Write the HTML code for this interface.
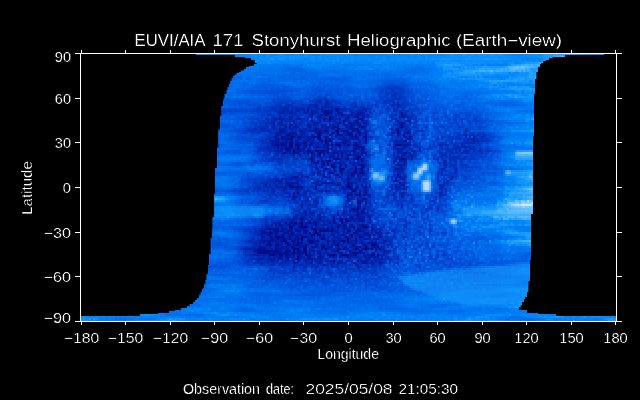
<!DOCTYPE html>
<html><head><meta charset="utf-8">
<style>
html,body{margin:0;padding:0;background:#000;width:640px;height:400px;overflow:hidden}
svg{display:block}
text{font-family:"Liberation Sans",sans-serif;fill:#fff;stroke:#000;stroke-width:0.6px}
</style></head><body>
<svg width="640" height="400" viewBox="0 0 640 400">
<rect width="640" height="400" fill="#000"/>
<g id="map">
<defs>
<clipPath id="plotclip"><rect x="81" y="54" width="535" height="267"/></clipPath>
<filter id="mapf" x="81" y="54" width="535" height="267" filterUnits="userSpaceOnUse" color-interpolation-filters="sRGB">
<feGaussianBlur in="SourceGraphic" stdDeviation="4" result="bl"/>
<feTurbulence type="fractalNoise" baseFrequency="0.28" numOctaves="2" seed="3" result="t1"/>
<feTurbulence type="fractalNoise" baseFrequency="0.02 0.15" numOctaves="2" seed="7" result="t2"/>
<feColorMatrix in="t1" type="matrix" values="0 0 0 0 0  1 0 0 0 0  0 0 0 0 0  0 0 0 0 1" result="n1"/>
<feColorMatrix in="t2" type="matrix" values="0 0 0 0 0  0 0 0 0 0  1 0 0 0 0  0 0 0 0 1" result="n2"/>
<feTurbulence type="fractalNoise" baseFrequency="0.45" numOctaves="1" seed="11" result="t3"/>
<feComponentTransfer in="t3" result="t3s"><feFuncR type="linear" slope="6" intercept="-4.1"/><feFuncA type="linear" slope="0" intercept="1"/></feComponentTransfer>
<feColorMatrix in="t3s" type="matrix" values="0 0 0 0 0  1 0 0 0 0  0 0 0 0 0  0 0 0 0 1" result="n3"/>
<feComposite in="n1" in2="n3" operator="arithmetic" k1="0" k2="1" k3="1" k4="0" result="n13"/>
<feComposite in="n13" in2="n2" operator="arithmetic" k1="0" k2="1" k3="1" k4="0" result="nm"/>
<feColorMatrix in="bl" type="matrix" values="1 0 0 0 0  0 1 0 0 0  0 0 1 0 0  0 0 0 0 1" result="bl1"/>
<feComposite in="bl1" in2="nm" operator="arithmetic" k1="1" k2="0" k3="0" k4="0" result="m"/>
<feColorMatrix in="m" type="matrix" values="0 1 1 0 0  0 1 1 0 0  0 1 1 0 0  0 0 0 0 1" result="ms"/>
<feColorMatrix in="bl1" type="matrix" values="1 0 0 0 0  1 0 0 0 0  1 0 0 0 0  0 0 0 0 1" result="b2"/>
<feComposite in="b2" in2="ms" operator="arithmetic" k1="0" k2="1" k3="1" k4="0" result="L"/>
<feComponentTransfer in="L" result="cm">
<feFuncR type="table" tableValues="0.0000 0.0000 0.0000 0.0000 0.0000 0.0000 0.0000 0.0000 0.1569 0.5490 0.9412"/>
<feFuncG type="table" tableValues="0.0000 0.0000 0.0471 0.1490 0.2431 0.3373 0.4235 0.5176 0.6471 0.8039 0.9725"/>
<feFuncB type="table" tableValues="0.0000 0.4118 0.5490 0.6863 0.7922 0.8706 0.9255 0.9725 1.0000 1.0000 1.0000"/>
<feFuncA type="linear" slope="0" intercept="1"/>
</feComponentTransfer>
<feFlood x="81" y="54" width="1" height="1" flood-color="#fff" result="dot"/>
<feComposite in="dot" x="81" y="54" width="2" height="2" operator="over" result="cell"/>
<feTile in="cell" result="tile"/>
<feComposite in="cm" in2="tile" operator="in" result="samp"/>
<feConvolveMatrix in="samp" order="2" kernelMatrix="1 1 1 1" divisor="1" targetX="1" targetY="1" edgeMode="none"/>
</filter>
<filter id="spb" x="81" y="54" width="535" height="267" filterUnits="userSpaceOnUse" color-interpolation-filters="sRGB"><feGaussianBlur stdDeviation="0.9" result="b"/><feFlood x="81" y="54" width="1" height="1" flood-color="#fff" result="dot"/><feComposite in="dot" x="81" y="54" width="2" height="2" operator="over" result="cell"/><feTile in="cell" result="tile"/><feComposite in="b" in2="tile" operator="in" result="samp"/><feConvolveMatrix in="samp" order="2" kernelMatrix="1 1 1 1" divisor="1" targetX="1" targetY="1" edgeMode="none"/></filter>
</defs>
<g clip-path="url(#plotclip)">
<rect x="81" y="54" width="535" height="267" fill="#0056de"/>
<g filter="url(#mapf)">
<rect x="60" y="54" width="130" height="10" fill="#7c1a5e"/>
<rect x="190" y="54" width="10" height="10" fill="#7c1a5e"/>
<rect x="200" y="54" width="10" height="10" fill="#7a1a61"/>
<rect x="210" y="54" width="10" height="10" fill="#7a1a61"/>
<rect x="220" y="54" width="10" height="10" fill="#7a1a61"/>
<rect x="230" y="54" width="10" height="10" fill="#7c1a5e"/>
<rect x="240" y="54" width="10" height="10" fill="#7e1a59"/>
<rect x="250" y="54" width="10" height="10" fill="#811a53"/>
<rect x="260" y="54" width="10" height="10" fill="#841a4e"/>
<rect x="270" y="54" width="10" height="10" fill="#871a49"/>
<rect x="280" y="54" width="10" height="10" fill="#891a43"/>
<rect x="290" y="54" width="10" height="10" fill="#8c1a3e"/>
<rect x="300" y="54" width="10" height="10" fill="#8f1a39"/>
<rect x="310" y="54" width="10" height="10" fill="#911a33"/>
<rect x="320" y="54" width="10" height="10" fill="#931a30"/>
<rect x="330" y="54" width="10" height="10" fill="#931a30"/>
<rect x="340" y="54" width="10" height="10" fill="#931a30"/>
<rect x="350" y="54" width="10" height="10" fill="#931a30"/>
<rect x="360" y="54" width="10" height="10" fill="#931a30"/>
<rect x="370" y="54" width="10" height="10" fill="#931a30"/>
<rect x="380" y="54" width="10" height="10" fill="#931a30"/>
<rect x="390" y="54" width="10" height="10" fill="#931a30"/>
<rect x="400" y="54" width="10" height="10" fill="#931a30"/>
<rect x="410" y="54" width="10" height="10" fill="#931a30"/>
<rect x="420" y="54" width="10" height="10" fill="#931a30"/>
<rect x="430" y="54" width="10" height="10" fill="#911a34"/>
<rect x="440" y="54" width="10" height="10" fill="#9b1a3a"/>
<rect x="450" y="54" width="10" height="10" fill="#981a3f"/>
<rect x="460" y="54" width="10" height="10" fill="#951a44"/>
<rect x="470" y="54" width="10" height="10" fill="#931a4a"/>
<rect x="480" y="54" width="10" height="10" fill="#901a4f"/>
<rect x="490" y="54" width="10" height="10" fill="#8d1a55"/>
<rect x="500" y="54" width="10" height="10" fill="#8b1a5a"/>
<rect x="510" y="54" width="10" height="10" fill="#881a5f"/>
<rect x="520" y="54" width="10" height="10" fill="#871a61"/>
<rect x="530" y="54" width="10" height="10" fill="#871a61"/>
<rect x="540" y="54" width="100" height="10" fill="#871a61"/>
<rect x="60" y="64" width="130" height="10" fill="#6a1a5e"/>
<rect x="190" y="64" width="10" height="10" fill="#6a1a5e"/>
<rect x="200" y="64" width="10" height="10" fill="#691a61"/>
<rect x="210" y="64" width="10" height="10" fill="#691a61"/>
<rect x="220" y="64" width="10" height="10" fill="#691a61"/>
<rect x="230" y="64" width="10" height="10" fill="#6a1a5e"/>
<rect x="240" y="64" width="10" height="10" fill="#6d1a59"/>
<rect x="250" y="64" width="10" height="10" fill="#6f1a53"/>
<rect x="260" y="64" width="10" height="10" fill="#721a4e"/>
<rect x="270" y="64" width="10" height="10" fill="#751a49"/>
<rect x="280" y="64" width="10" height="10" fill="#6b1a43"/>
<rect x="290" y="64" width="10" height="10" fill="#6d1a3e"/>
<rect x="300" y="64" width="10" height="10" fill="#701a39"/>
<rect x="310" y="64" width="10" height="10" fill="#7f1a33"/>
<rect x="320" y="64" width="10" height="10" fill="#811a30"/>
<rect x="330" y="64" width="10" height="10" fill="#811a30"/>
<rect x="340" y="64" width="10" height="10" fill="#811a30"/>
<rect x="350" y="64" width="10" height="10" fill="#811a30"/>
<rect x="360" y="64" width="10" height="10" fill="#811a30"/>
<rect x="370" y="64" width="10" height="10" fill="#811a30"/>
<rect x="380" y="64" width="10" height="10" fill="#811a30"/>
<rect x="390" y="64" width="10" height="10" fill="#811a30"/>
<rect x="400" y="64" width="10" height="10" fill="#811a30"/>
<rect x="410" y="64" width="10" height="10" fill="#811a30"/>
<rect x="420" y="64" width="10" height="10" fill="#811a30"/>
<rect x="430" y="64" width="10" height="10" fill="#8c1a34"/>
<rect x="440" y="64" width="10" height="10" fill="#961a3a"/>
<rect x="450" y="64" width="10" height="10" fill="#931a3f"/>
<rect x="460" y="64" width="10" height="10" fill="#901a44"/>
<rect x="470" y="64" width="10" height="10" fill="#8e1a4a"/>
<rect x="480" y="64" width="10" height="10" fill="#8b1a4f"/>
<rect x="490" y="64" width="10" height="10" fill="#881a55"/>
<rect x="500" y="64" width="10" height="10" fill="#861a5a"/>
<rect x="510" y="64" width="10" height="10" fill="#901a5f"/>
<rect x="520" y="64" width="10" height="10" fill="#8f1a61"/>
<rect x="530" y="64" width="10" height="10" fill="#8f1a61"/>
<rect x="540" y="64" width="100" height="10" fill="#8f1a61"/>
<rect x="60" y="74" width="130" height="10" fill="#5d1a5e"/>
<rect x="190" y="74" width="10" height="10" fill="#5d1a5e"/>
<rect x="200" y="74" width="10" height="10" fill="#5c1a61"/>
<rect x="210" y="74" width="10" height="10" fill="#5c1a61"/>
<rect x="220" y="74" width="10" height="10" fill="#5c1a61"/>
<rect x="230" y="74" width="10" height="10" fill="#5d1a5e"/>
<rect x="240" y="74" width="10" height="10" fill="#601a59"/>
<rect x="250" y="74" width="10" height="10" fill="#631a53"/>
<rect x="260" y="74" width="10" height="10" fill="#581a4e"/>
<rect x="270" y="74" width="10" height="10" fill="#5b1a49"/>
<rect x="280" y="74" width="10" height="10" fill="#5e1a43"/>
<rect x="290" y="74" width="10" height="10" fill="#611a3e"/>
<rect x="300" y="74" width="10" height="10" fill="#631a39"/>
<rect x="310" y="74" width="10" height="10" fill="#661a33"/>
<rect x="320" y="74" width="10" height="10" fill="#671a30"/>
<rect x="330" y="74" width="10" height="10" fill="#671a30"/>
<rect x="340" y="74" width="10" height="10" fill="#671a30"/>
<rect x="350" y="74" width="10" height="10" fill="#741a30"/>
<rect x="360" y="74" width="10" height="10" fill="#741a30"/>
<rect x="370" y="74" width="10" height="10" fill="#741a30"/>
<rect x="380" y="74" width="10" height="10" fill="#671a30"/>
<rect x="390" y="74" width="10" height="10" fill="#671a30"/>
<rect x="400" y="74" width="10" height="10" fill="#671a30"/>
<rect x="410" y="74" width="10" height="10" fill="#741a30"/>
<rect x="420" y="74" width="10" height="10" fill="#741a30"/>
<rect x="430" y="74" width="10" height="10" fill="#7f1a34"/>
<rect x="440" y="74" width="10" height="10" fill="#891a3a"/>
<rect x="450" y="74" width="10" height="10" fill="#861a3f"/>
<rect x="460" y="74" width="10" height="10" fill="#841a44"/>
<rect x="470" y="74" width="10" height="10" fill="#811a4a"/>
<rect x="480" y="74" width="10" height="10" fill="#7e1a4f"/>
<rect x="490" y="74" width="10" height="10" fill="#881a55"/>
<rect x="500" y="74" width="10" height="10" fill="#861a5a"/>
<rect x="510" y="74" width="10" height="10" fill="#831a5f"/>
<rect x="520" y="74" width="10" height="10" fill="#821a61"/>
<rect x="530" y="74" width="10" height="10" fill="#821a61"/>
<rect x="540" y="74" width="100" height="10" fill="#821a61"/>
<rect x="60" y="84" width="130" height="10" fill="#5d1a5e"/>
<rect x="190" y="84" width="10" height="10" fill="#5d1a5e"/>
<rect x="200" y="84" width="10" height="10" fill="#5c1a61"/>
<rect x="210" y="84" width="10" height="10" fill="#5c1a61"/>
<rect x="220" y="84" width="10" height="10" fill="#5c1a61"/>
<rect x="230" y="84" width="10" height="10" fill="#5d1a5e"/>
<rect x="240" y="84" width="10" height="10" fill="#531b57"/>
<rect x="250" y="84" width="10" height="10" fill="#551d51"/>
<rect x="260" y="84" width="10" height="10" fill="#581e4b"/>
<rect x="270" y="84" width="10" height="10" fill="#5a1f45"/>
<rect x="280" y="84" width="10" height="10" fill="#5c213f"/>
<rect x="290" y="84" width="10" height="10" fill="#6b2239"/>
<rect x="300" y="84" width="10" height="10" fill="#6e2334"/>
<rect x="310" y="84" width="10" height="10" fill="#63242e"/>
<rect x="320" y="84" width="10" height="10" fill="#64252c"/>
<rect x="330" y="84" width="10" height="10" fill="#64252c"/>
<rect x="340" y="84" width="10" height="10" fill="#64252c"/>
<rect x="350" y="84" width="10" height="10" fill="#64252c"/>
<rect x="360" y="84" width="10" height="10" fill="#64252c"/>
<rect x="370" y="84" width="10" height="10" fill="#51252c"/>
<rect x="380" y="84" width="10" height="10" fill="#3e252c"/>
<rect x="390" y="84" width="10" height="10" fill="#2b252c"/>
<rect x="400" y="84" width="10" height="10" fill="#3e252c"/>
<rect x="410" y="84" width="10" height="10" fill="#64252c"/>
<rect x="420" y="84" width="10" height="10" fill="#64252c"/>
<rect x="430" y="84" width="10" height="10" fill="#6f242f"/>
<rect x="440" y="84" width="10" height="10" fill="#7a2335"/>
<rect x="450" y="84" width="10" height="10" fill="#78223b"/>
<rect x="460" y="84" width="10" height="10" fill="#752040"/>
<rect x="470" y="84" width="10" height="10" fill="#801f46"/>
<rect x="480" y="84" width="10" height="10" fill="#7e1e4c"/>
<rect x="490" y="84" width="10" height="10" fill="#7b1c52"/>
<rect x="500" y="84" width="10" height="10" fill="#791b59"/>
<rect x="510" y="84" width="10" height="10" fill="#831a5f"/>
<rect x="520" y="84" width="10" height="10" fill="#821a61"/>
<rect x="530" y="84" width="10" height="10" fill="#821a61"/>
<rect x="540" y="84" width="100" height="10" fill="#821a61"/>
<rect x="60" y="94" width="130" height="10" fill="#501c5c"/>
<rect x="190" y="94" width="10" height="10" fill="#501c5c"/>
<rect x="200" y="94" width="10" height="10" fill="#4f1a61"/>
<rect x="210" y="94" width="10" height="10" fill="#4f1a61"/>
<rect x="220" y="94" width="10" height="10" fill="#4f1a61"/>
<rect x="230" y="94" width="10" height="10" fill="#501c5c"/>
<rect x="240" y="94" width="10" height="10" fill="#462054"/>
<rect x="250" y="94" width="10" height="10" fill="#48254b"/>
<rect x="260" y="94" width="10" height="10" fill="#492943"/>
<rect x="270" y="94" width="10" height="10" fill="#2d2e3c"/>
<rect x="280" y="94" width="10" height="10" fill="#2f3235"/>
<rect x="290" y="94" width="10" height="10" fill="#43372e"/>
<rect x="300" y="94" width="10" height="10" fill="#443b28"/>
<rect x="310" y="94" width="10" height="10" fill="#313f22"/>
<rect x="320" y="94" width="10" height="10" fill="#32421f"/>
<rect x="330" y="94" width="10" height="10" fill="#45421f"/>
<rect x="340" y="94" width="10" height="10" fill="#4f421f"/>
<rect x="350" y="94" width="10" height="10" fill="#4f421f"/>
<rect x="360" y="94" width="10" height="10" fill="#4f421f"/>
<rect x="370" y="94" width="10" height="10" fill="#4f421f"/>
<rect x="380" y="94" width="10" height="10" fill="#29421f"/>
<rect x="390" y="94" width="10" height="10" fill="#29421f"/>
<rect x="400" y="94" width="10" height="10" fill="#3c421f"/>
<rect x="410" y="94" width="10" height="10" fill="#4f421f"/>
<rect x="420" y="94" width="10" height="10" fill="#4f421f"/>
<rect x="430" y="94" width="10" height="10" fill="#5b3f23"/>
<rect x="440" y="94" width="10" height="10" fill="#673a29"/>
<rect x="450" y="94" width="10" height="10" fill="#663630"/>
<rect x="460" y="94" width="10" height="10" fill="#653136"/>
<rect x="470" y="94" width="10" height="10" fill="#642d3d"/>
<rect x="480" y="94" width="10" height="10" fill="#6f2845"/>
<rect x="490" y="94" width="10" height="10" fill="#6d244d"/>
<rect x="500" y="94" width="10" height="10" fill="#6b1f55"/>
<rect x="510" y="94" width="10" height="10" fill="#691b5e"/>
<rect x="520" y="94" width="10" height="10" fill="#691a61"/>
<rect x="530" y="94" width="10" height="10" fill="#691a61"/>
<rect x="540" y="94" width="100" height="10" fill="#691a61"/>
<rect x="60" y="104" width="130" height="10" fill="#431d5b"/>
<rect x="190" y="104" width="10" height="10" fill="#431d5b"/>
<rect x="200" y="104" width="10" height="10" fill="#421a61"/>
<rect x="210" y="104" width="10" height="10" fill="#421a61"/>
<rect x="220" y="104" width="10" height="10" fill="#421a61"/>
<rect x="230" y="104" width="10" height="10" fill="#301d5b"/>
<rect x="240" y="104" width="10" height="10" fill="#452550"/>
<rect x="250" y="104" width="10" height="10" fill="#332d46"/>
<rect x="260" y="104" width="10" height="10" fill="#34343c"/>
<rect x="270" y="104" width="10" height="10" fill="#2b3c33"/>
<rect x="280" y="104" width="10" height="10" fill="#18442b"/>
<rect x="290" y="104" width="10" height="10" fill="#184b23"/>
<rect x="300" y="104" width="10" height="10" fill="#17531c"/>
<rect x="310" y="104" width="10" height="10" fill="#175b16"/>
<rect x="320" y="104" width="10" height="10" fill="#035e13"/>
<rect x="330" y="104" width="10" height="10" fill="#035e13"/>
<rect x="340" y="104" width="10" height="10" fill="#205e13"/>
<rect x="350" y="104" width="10" height="10" fill="#145e13"/>
<rect x="360" y="104" width="10" height="10" fill="#145e13"/>
<rect x="370" y="104" width="10" height="10" fill="#3a5e13"/>
<rect x="380" y="104" width="10" height="10" fill="#3a5e13"/>
<rect x="390" y="104" width="10" height="10" fill="#205e13"/>
<rect x="400" y="104" width="10" height="10" fill="#205e13"/>
<rect x="410" y="104" width="10" height="10" fill="#2d5e13"/>
<rect x="420" y="104" width="10" height="10" fill="#475e13"/>
<rect x="430" y="104" width="10" height="10" fill="#405917"/>
<rect x="440" y="104" width="10" height="10" fill="#4d511e"/>
<rect x="450" y="104" width="10" height="10" fill="#4d4a25"/>
<rect x="460" y="104" width="10" height="10" fill="#4d422c"/>
<rect x="470" y="104" width="10" height="10" fill="#4d3a35"/>
<rect x="480" y="104" width="10" height="10" fill="#59333e"/>
<rect x="490" y="104" width="10" height="10" fill="#602b48"/>
<rect x="500" y="104" width="10" height="10" fill="#662352"/>
<rect x="510" y="104" width="10" height="10" fill="#641c5d"/>
<rect x="520" y="104" width="10" height="10" fill="#631a61"/>
<rect x="530" y="104" width="10" height="10" fill="#701a61"/>
<rect x="540" y="104" width="100" height="10" fill="#701a61"/>
<rect x="60" y="114" width="130" height="10" fill="#431f5a"/>
<rect x="190" y="114" width="10" height="10" fill="#431f5a"/>
<rect x="200" y="114" width="10" height="10" fill="#421a61"/>
<rect x="210" y="114" width="10" height="10" fill="#4a1a61"/>
<rect x="220" y="114" width="10" height="10" fill="#4a1a61"/>
<rect x="230" y="114" width="10" height="10" fill="#4b1f5a"/>
<rect x="240" y="114" width="10" height="10" fill="#392a4c"/>
<rect x="250" y="114" width="10" height="10" fill="#323540"/>
<rect x="260" y="114" width="10" height="10" fill="#1f3f34"/>
<rect x="270" y="114" width="10" height="10" fill="#154a2a"/>
<rect x="280" y="114" width="10" height="10" fill="#145520"/>
<rect x="290" y="114" width="10" height="10" fill="#136018"/>
<rect x="300" y="114" width="10" height="10" fill="#256b10"/>
<rect x="310" y="114" width="10" height="10" fill="#0f760a"/>
<rect x="320" y="114" width="10" height="10" fill="#0e7b07"/>
<rect x="330" y="114" width="10" height="10" fill="#0e7b07"/>
<rect x="340" y="114" width="10" height="10" fill="#0b7b07"/>
<rect x="350" y="114" width="10" height="10" fill="#007b07"/>
<rect x="360" y="114" width="10" height="10" fill="#007b07"/>
<rect x="370" y="114" width="10" height="10" fill="#3e7b07"/>
<rect x="380" y="114" width="10" height="10" fill="#3e7b07"/>
<rect x="390" y="114" width="10" height="10" fill="#187b07"/>
<rect x="400" y="114" width="10" height="10" fill="#0b7b07"/>
<rect x="410" y="114" width="10" height="10" fill="#257b07"/>
<rect x="420" y="114" width="10" height="10" fill="#3e7b07"/>
<rect x="430" y="114" width="10" height="10" fill="#38730b"/>
<rect x="440" y="114" width="10" height="10" fill="#346912"/>
<rect x="450" y="114" width="10" height="10" fill="#365e1a"/>
<rect x="460" y="114" width="10" height="10" fill="#375322"/>
<rect x="470" y="114" width="10" height="10" fill="#38482c"/>
<rect x="480" y="114" width="10" height="10" fill="#4b3d36"/>
<rect x="490" y="114" width="10" height="10" fill="#5f3242"/>
<rect x="500" y="114" width="10" height="10" fill="#65284f"/>
<rect x="510" y="114" width="10" height="10" fill="#711d5d"/>
<rect x="520" y="114" width="10" height="10" fill="#701a61"/>
<rect x="530" y="114" width="10" height="10" fill="#701a61"/>
<rect x="540" y="114" width="100" height="10" fill="#701a61"/>
<rect x="60" y="124" width="130" height="10" fill="#502059"/>
<rect x="190" y="124" width="10" height="10" fill="#502059"/>
<rect x="200" y="124" width="10" height="10" fill="#4f1a61"/>
<rect x="210" y="124" width="10" height="10" fill="#571a61"/>
<rect x="220" y="124" width="10" height="10" fill="#571a61"/>
<rect x="230" y="124" width="10" height="10" fill="#4b2059"/>
<rect x="240" y="124" width="10" height="10" fill="#392d4a"/>
<rect x="250" y="124" width="10" height="10" fill="#1e393c"/>
<rect x="260" y="124" width="10" height="10" fill="#1e4630"/>
<rect x="270" y="124" width="10" height="10" fill="#135324"/>
<rect x="280" y="124" width="10" height="10" fill="#00601a"/>
<rect x="290" y="124" width="10" height="10" fill="#106c11"/>
<rect x="300" y="124" width="10" height="10" fill="#0e7909"/>
<rect x="310" y="124" width="10" height="10" fill="#008603"/>
<rect x="320" y="124" width="10" height="10" fill="#008c00"/>
<rect x="330" y="124" width="10" height="10" fill="#008c00"/>
<rect x="340" y="124" width="10" height="10" fill="#068c00"/>
<rect x="350" y="124" width="10" height="10" fill="#008c00"/>
<rect x="360" y="124" width="10" height="10" fill="#008c00"/>
<rect x="370" y="124" width="10" height="10" fill="#468c00"/>
<rect x="380" y="124" width="10" height="10" fill="#398c00"/>
<rect x="390" y="124" width="10" height="10" fill="#068c00"/>
<rect x="400" y="124" width="10" height="10" fill="#008c00"/>
<rect x="410" y="124" width="10" height="10" fill="#208c00"/>
<rect x="420" y="124" width="10" height="10" fill="#398c00"/>
<rect x="430" y="124" width="10" height="10" fill="#348304"/>
<rect x="440" y="124" width="10" height="10" fill="#31770b"/>
<rect x="450" y="124" width="10" height="10" fill="#336a13"/>
<rect x="460" y="124" width="10" height="10" fill="#355d1c"/>
<rect x="470" y="124" width="10" height="10" fill="#365027"/>
<rect x="480" y="124" width="10" height="10" fill="#374432"/>
<rect x="490" y="124" width="10" height="10" fill="#51373f"/>
<rect x="500" y="124" width="10" height="10" fill="#652a4d"/>
<rect x="510" y="124" width="10" height="10" fill="#711d5c"/>
<rect x="520" y="124" width="10" height="10" fill="#701a61"/>
<rect x="530" y="124" width="10" height="10" fill="#7d1a61"/>
<rect x="540" y="124" width="100" height="10" fill="#7d1a61"/>
<rect x="60" y="134" width="130" height="10" fill="#502059"/>
<rect x="190" y="134" width="10" height="10" fill="#502059"/>
<rect x="200" y="134" width="10" height="10" fill="#4f1a61"/>
<rect x="210" y="134" width="10" height="10" fill="#571a61"/>
<rect x="220" y="134" width="10" height="10" fill="#571a61"/>
<rect x="230" y="134" width="10" height="10" fill="#4b2059"/>
<rect x="240" y="134" width="10" height="10" fill="#392d4a"/>
<rect x="250" y="134" width="10" height="10" fill="#32393c"/>
<rect x="260" y="134" width="10" height="10" fill="#1e4630"/>
<rect x="270" y="134" width="10" height="10" fill="#005324"/>
<rect x="280" y="134" width="10" height="10" fill="#00601a"/>
<rect x="290" y="134" width="10" height="10" fill="#006c11"/>
<rect x="300" y="134" width="10" height="10" fill="#0e7909"/>
<rect x="310" y="134" width="10" height="10" fill="#008603"/>
<rect x="320" y="134" width="10" height="10" fill="#008c00"/>
<rect x="330" y="134" width="10" height="10" fill="#008c00"/>
<rect x="340" y="134" width="10" height="10" fill="#068c00"/>
<rect x="350" y="134" width="10" height="10" fill="#008c00"/>
<rect x="360" y="134" width="10" height="10" fill="#008c00"/>
<rect x="370" y="134" width="10" height="10" fill="#398c00"/>
<rect x="380" y="134" width="10" height="10" fill="#398c00"/>
<rect x="390" y="134" width="10" height="10" fill="#068c00"/>
<rect x="400" y="134" width="10" height="10" fill="#008c00"/>
<rect x="410" y="134" width="10" height="10" fill="#208c00"/>
<rect x="420" y="134" width="10" height="10" fill="#398c00"/>
<rect x="430" y="134" width="10" height="10" fill="#348304"/>
<rect x="440" y="134" width="10" height="10" fill="#24770b"/>
<rect x="450" y="134" width="10" height="10" fill="#266a13"/>
<rect x="460" y="134" width="10" height="10" fill="#155d1c"/>
<rect x="470" y="134" width="10" height="10" fill="#165027"/>
<rect x="480" y="134" width="10" height="10" fill="#2a4432"/>
<rect x="490" y="134" width="10" height="10" fill="#45373f"/>
<rect x="500" y="134" width="10" height="10" fill="#652a4d"/>
<rect x="510" y="134" width="10" height="10" fill="#711d5c"/>
<rect x="520" y="134" width="10" height="10" fill="#701a61"/>
<rect x="530" y="134" width="10" height="10" fill="#7d1a61"/>
<rect x="540" y="134" width="100" height="10" fill="#7d1a61"/>
<rect x="60" y="144" width="130" height="10" fill="#502059"/>
<rect x="190" y="144" width="10" height="10" fill="#502059"/>
<rect x="200" y="144" width="10" height="10" fill="#4f1a61"/>
<rect x="210" y="144" width="10" height="10" fill="#571a61"/>
<rect x="220" y="144" width="10" height="10" fill="#571a61"/>
<rect x="230" y="144" width="10" height="10" fill="#4b2059"/>
<rect x="240" y="144" width="10" height="10" fill="#4c2d4a"/>
<rect x="250" y="144" width="10" height="10" fill="#32393c"/>
<rect x="260" y="144" width="10" height="10" fill="#1e4630"/>
<rect x="270" y="144" width="10" height="10" fill="#135324"/>
<rect x="280" y="144" width="10" height="10" fill="#00601a"/>
<rect x="290" y="144" width="10" height="10" fill="#006c11"/>
<rect x="300" y="144" width="10" height="10" fill="#007909"/>
<rect x="310" y="144" width="10" height="10" fill="#008603"/>
<rect x="320" y="144" width="10" height="10" fill="#008c00"/>
<rect x="330" y="144" width="10" height="10" fill="#008c00"/>
<rect x="340" y="144" width="10" height="10" fill="#068c00"/>
<rect x="350" y="144" width="10" height="10" fill="#008c00"/>
<rect x="360" y="144" width="10" height="10" fill="#008c00"/>
<rect x="370" y="144" width="10" height="10" fill="#468c00"/>
<rect x="380" y="144" width="10" height="10" fill="#468c00"/>
<rect x="390" y="144" width="10" height="10" fill="#068c00"/>
<rect x="400" y="144" width="10" height="10" fill="#008c00"/>
<rect x="410" y="144" width="10" height="10" fill="#138c00"/>
<rect x="420" y="144" width="10" height="10" fill="#398c00"/>
<rect x="430" y="144" width="10" height="10" fill="#218304"/>
<rect x="440" y="144" width="10" height="10" fill="#11770b"/>
<rect x="450" y="144" width="10" height="10" fill="#136a13"/>
<rect x="460" y="144" width="10" height="10" fill="#155d1c"/>
<rect x="470" y="144" width="10" height="10" fill="#165027"/>
<rect x="480" y="144" width="10" height="10" fill="#2a4432"/>
<rect x="490" y="144" width="10" height="10" fill="#3d373f"/>
<rect x="500" y="144" width="10" height="10" fill="#6d2a4d"/>
<rect x="510" y="144" width="10" height="10" fill="#781d5c"/>
<rect x="520" y="144" width="10" height="10" fill="#781a61"/>
<rect x="530" y="144" width="10" height="10" fill="#851a61"/>
<rect x="540" y="144" width="100" height="10" fill="#851a61"/>
<rect x="60" y="154" width="130" height="10" fill="#502059"/>
<rect x="190" y="154" width="10" height="10" fill="#502059"/>
<rect x="200" y="154" width="10" height="10" fill="#4f1a61"/>
<rect x="210" y="154" width="10" height="10" fill="#571a61"/>
<rect x="220" y="154" width="10" height="10" fill="#571a61"/>
<rect x="230" y="154" width="10" height="10" fill="#572059"/>
<rect x="240" y="154" width="10" height="10" fill="#592d4a"/>
<rect x="250" y="154" width="10" height="10" fill="#45393c"/>
<rect x="260" y="154" width="10" height="10" fill="#314630"/>
<rect x="270" y="154" width="10" height="10" fill="#275324"/>
<rect x="280" y="154" width="10" height="10" fill="#12601a"/>
<rect x="290" y="154" width="10" height="10" fill="#106c11"/>
<rect x="300" y="154" width="10" height="10" fill="#0e7909"/>
<rect x="310" y="154" width="10" height="10" fill="#0b8603"/>
<rect x="320" y="154" width="10" height="10" fill="#008c00"/>
<rect x="330" y="154" width="10" height="10" fill="#008c00"/>
<rect x="340" y="154" width="10" height="10" fill="#068c00"/>
<rect x="350" y="154" width="10" height="10" fill="#008c00"/>
<rect x="360" y="154" width="10" height="10" fill="#008c00"/>
<rect x="370" y="154" width="10" height="10" fill="#468c00"/>
<rect x="380" y="154" width="10" height="10" fill="#468c00"/>
<rect x="390" y="154" width="10" height="10" fill="#068c00"/>
<rect x="400" y="154" width="10" height="10" fill="#008c00"/>
<rect x="410" y="154" width="10" height="10" fill="#208c00"/>
<rect x="420" y="154" width="10" height="10" fill="#538c00"/>
<rect x="430" y="154" width="10" height="10" fill="#298304"/>
<rect x="440" y="154" width="10" height="10" fill="#19770b"/>
<rect x="450" y="154" width="10" height="10" fill="#1b6a13"/>
<rect x="460" y="154" width="10" height="10" fill="#305d1c"/>
<rect x="470" y="154" width="10" height="10" fill="#315027"/>
<rect x="480" y="154" width="10" height="10" fill="#324432"/>
<rect x="490" y="154" width="10" height="10" fill="#45373f"/>
<rect x="500" y="154" width="10" height="10" fill="#6d2a4d"/>
<rect x="510" y="154" width="10" height="10" fill="#781d5c"/>
<rect x="520" y="154" width="10" height="10" fill="#851a61"/>
<rect x="530" y="154" width="10" height="10" fill="#9e1a61"/>
<rect x="540" y="154" width="100" height="10" fill="#9e1a61"/>
<rect x="60" y="164" width="130" height="10" fill="#5d2059"/>
<rect x="190" y="164" width="10" height="10" fill="#5d2059"/>
<rect x="200" y="164" width="10" height="10" fill="#5c1a61"/>
<rect x="210" y="164" width="10" height="10" fill="#631a61"/>
<rect x="220" y="164" width="10" height="10" fill="#631a61"/>
<rect x="230" y="164" width="10" height="10" fill="#572059"/>
<rect x="240" y="164" width="10" height="10" fill="#592d4a"/>
<rect x="250" y="164" width="10" height="10" fill="#51393c"/>
<rect x="260" y="164" width="10" height="10" fill="#5e4630"/>
<rect x="270" y="164" width="10" height="10" fill="#465324"/>
<rect x="280" y="164" width="10" height="10" fill="#38601a"/>
<rect x="290" y="164" width="10" height="10" fill="#236c11"/>
<rect x="300" y="164" width="10" height="10" fill="#347909"/>
<rect x="310" y="164" width="10" height="10" fill="#0b8603"/>
<rect x="320" y="164" width="10" height="10" fill="#098c00"/>
<rect x="330" y="164" width="10" height="10" fill="#008c00"/>
<rect x="340" y="164" width="10" height="10" fill="#068c00"/>
<rect x="350" y="164" width="10" height="10" fill="#008c00"/>
<rect x="360" y="164" width="10" height="10" fill="#008c00"/>
<rect x="370" y="164" width="10" height="10" fill="#468c00"/>
<rect x="380" y="164" width="10" height="10" fill="#538c00"/>
<rect x="390" y="164" width="10" height="10" fill="#068c00"/>
<rect x="400" y="164" width="10" height="10" fill="#008c00"/>
<rect x="410" y="164" width="10" height="10" fill="#398c00"/>
<rect x="420" y="164" width="10" height="10" fill="#6c8c00"/>
<rect x="430" y="164" width="10" height="10" fill="#298304"/>
<rect x="440" y="164" width="10" height="10" fill="#19770b"/>
<rect x="450" y="164" width="10" height="10" fill="#1b6a13"/>
<rect x="460" y="164" width="10" height="10" fill="#305d1c"/>
<rect x="470" y="164" width="10" height="10" fill="#315027"/>
<rect x="480" y="164" width="10" height="10" fill="#454432"/>
<rect x="490" y="164" width="10" height="10" fill="#45373f"/>
<rect x="500" y="164" width="10" height="10" fill="#602a4d"/>
<rect x="510" y="164" width="10" height="10" fill="#6c1d5c"/>
<rect x="520" y="164" width="10" height="10" fill="#781a61"/>
<rect x="530" y="164" width="10" height="10" fill="#851a61"/>
<rect x="540" y="164" width="100" height="10" fill="#851a61"/>
<rect x="60" y="174" width="130" height="10" fill="#502059"/>
<rect x="190" y="174" width="10" height="10" fill="#502059"/>
<rect x="200" y="174" width="10" height="10" fill="#5c1a61"/>
<rect x="210" y="174" width="10" height="10" fill="#631a61"/>
<rect x="220" y="174" width="10" height="10" fill="#631a61"/>
<rect x="230" y="174" width="10" height="10" fill="#462059"/>
<rect x="240" y="174" width="10" height="10" fill="#342d4a"/>
<rect x="250" y="174" width="10" height="10" fill="#2c393c"/>
<rect x="260" y="174" width="10" height="10" fill="#204630"/>
<rect x="270" y="174" width="10" height="10" fill="#155324"/>
<rect x="280" y="174" width="10" height="10" fill="#13601a"/>
<rect x="290" y="174" width="10" height="10" fill="#006c11"/>
<rect x="300" y="174" width="10" height="10" fill="#187909"/>
<rect x="310" y="174" width="10" height="10" fill="#158603"/>
<rect x="320" y="174" width="10" height="10" fill="#138c00"/>
<rect x="330" y="174" width="10" height="10" fill="#138c00"/>
<rect x="340" y="174" width="10" height="10" fill="#068c00"/>
<rect x="350" y="174" width="10" height="10" fill="#008c00"/>
<rect x="360" y="174" width="10" height="10" fill="#008c00"/>
<rect x="370" y="174" width="10" height="10" fill="#538c00"/>
<rect x="380" y="174" width="10" height="10" fill="#538c00"/>
<rect x="390" y="174" width="10" height="10" fill="#068c00"/>
<rect x="400" y="174" width="10" height="10" fill="#068c00"/>
<rect x="410" y="174" width="10" height="10" fill="#468c00"/>
<rect x="420" y="174" width="10" height="10" fill="#6c8c00"/>
<rect x="430" y="174" width="10" height="10" fill="#2a8304"/>
<rect x="440" y="174" width="10" height="10" fill="#1a770b"/>
<rect x="450" y="174" width="10" height="10" fill="#2e6a13"/>
<rect x="460" y="174" width="10" height="10" fill="#435d1c"/>
<rect x="470" y="174" width="10" height="10" fill="#445027"/>
<rect x="480" y="174" width="10" height="10" fill="#574432"/>
<rect x="490" y="174" width="10" height="10" fill="#56373f"/>
<rect x="500" y="174" width="10" height="10" fill="#722a4d"/>
<rect x="510" y="174" width="10" height="10" fill="#7d1d5c"/>
<rect x="520" y="174" width="10" height="10" fill="#8a1a61"/>
<rect x="530" y="174" width="10" height="10" fill="#961a61"/>
<rect x="540" y="174" width="100" height="10" fill="#961a61"/>
<rect x="60" y="184" width="130" height="10" fill="#502059"/>
<rect x="190" y="184" width="10" height="10" fill="#502059"/>
<rect x="200" y="184" width="10" height="10" fill="#5c1a61"/>
<rect x="210" y="184" width="10" height="10" fill="#631a61"/>
<rect x="220" y="184" width="10" height="10" fill="#631a61"/>
<rect x="230" y="184" width="10" height="10" fill="#462059"/>
<rect x="240" y="184" width="10" height="10" fill="#342d4a"/>
<rect x="250" y="184" width="10" height="10" fill="#2c393c"/>
<rect x="260" y="184" width="10" height="10" fill="#204630"/>
<rect x="270" y="184" width="10" height="10" fill="#155324"/>
<rect x="280" y="184" width="10" height="10" fill="#13601a"/>
<rect x="290" y="184" width="10" height="10" fill="#006c11"/>
<rect x="300" y="184" width="10" height="10" fill="#187909"/>
<rect x="310" y="184" width="10" height="10" fill="#158603"/>
<rect x="320" y="184" width="10" height="10" fill="#008c00"/>
<rect x="330" y="184" width="10" height="10" fill="#138c00"/>
<rect x="340" y="184" width="10" height="10" fill="#068c00"/>
<rect x="350" y="184" width="10" height="10" fill="#008c00"/>
<rect x="360" y="184" width="10" height="10" fill="#008c00"/>
<rect x="370" y="184" width="10" height="10" fill="#398c00"/>
<rect x="380" y="184" width="10" height="10" fill="#398c00"/>
<rect x="390" y="184" width="10" height="10" fill="#068c00"/>
<rect x="400" y="184" width="10" height="10" fill="#068c00"/>
<rect x="410" y="184" width="10" height="10" fill="#398c00"/>
<rect x="420" y="184" width="10" height="10" fill="#608c00"/>
<rect x="430" y="184" width="10" height="10" fill="#178304"/>
<rect x="440" y="184" width="10" height="10" fill="#1a770b"/>
<rect x="450" y="184" width="10" height="10" fill="#4e6a13"/>
<rect x="460" y="184" width="10" height="10" fill="#505d1c"/>
<rect x="470" y="184" width="10" height="10" fill="#515027"/>
<rect x="480" y="184" width="10" height="10" fill="#634432"/>
<rect x="490" y="184" width="10" height="10" fill="#63373f"/>
<rect x="500" y="184" width="10" height="10" fill="#7f2a4d"/>
<rect x="510" y="184" width="10" height="10" fill="#8a1d5c"/>
<rect x="520" y="184" width="10" height="10" fill="#961a61"/>
<rect x="530" y="184" width="10" height="10" fill="#a31a61"/>
<rect x="540" y="184" width="100" height="10" fill="#a31a61"/>
<rect x="60" y="194" width="130" height="10" fill="#5d2059"/>
<rect x="190" y="194" width="10" height="10" fill="#5d2059"/>
<rect x="200" y="194" width="10" height="10" fill="#691a61"/>
<rect x="210" y="194" width="10" height="10" fill="#701a61"/>
<rect x="220" y="194" width="10" height="10" fill="#701a61"/>
<rect x="230" y="194" width="10" height="10" fill="#522059"/>
<rect x="240" y="194" width="10" height="10" fill="#472d4a"/>
<rect x="250" y="194" width="10" height="10" fill="#40393c"/>
<rect x="260" y="194" width="10" height="10" fill="#204630"/>
<rect x="270" y="194" width="10" height="10" fill="#285324"/>
<rect x="280" y="194" width="10" height="10" fill="#27601a"/>
<rect x="290" y="194" width="10" height="10" fill="#126c11"/>
<rect x="300" y="194" width="10" height="10" fill="#187909"/>
<rect x="310" y="194" width="10" height="10" fill="#158603"/>
<rect x="320" y="194" width="10" height="10" fill="#398c00"/>
<rect x="330" y="194" width="10" height="10" fill="#468c00"/>
<rect x="340" y="194" width="10" height="10" fill="#138c00"/>
<rect x="350" y="194" width="10" height="10" fill="#008c00"/>
<rect x="360" y="194" width="10" height="10" fill="#008c00"/>
<rect x="370" y="194" width="10" height="10" fill="#2d8c00"/>
<rect x="380" y="194" width="10" height="10" fill="#2d8c00"/>
<rect x="390" y="194" width="10" height="10" fill="#138c00"/>
<rect x="400" y="194" width="10" height="10" fill="#138c00"/>
<rect x="410" y="194" width="10" height="10" fill="#2d8c00"/>
<rect x="420" y="194" width="10" height="10" fill="#398c00"/>
<rect x="430" y="194" width="10" height="10" fill="#178304"/>
<rect x="440" y="194" width="10" height="10" fill="#2d770b"/>
<rect x="450" y="194" width="10" height="10" fill="#676a13"/>
<rect x="460" y="194" width="10" height="10" fill="#695d1c"/>
<rect x="470" y="194" width="10" height="10" fill="#6a5027"/>
<rect x="480" y="194" width="10" height="10" fill="#634432"/>
<rect x="490" y="194" width="10" height="10" fill="#63373f"/>
<rect x="500" y="194" width="10" height="10" fill="#7f2a4d"/>
<rect x="510" y="194" width="10" height="10" fill="#8a1d5c"/>
<rect x="520" y="194" width="10" height="10" fill="#961a61"/>
<rect x="530" y="194" width="10" height="10" fill="#a31a61"/>
<rect x="540" y="194" width="100" height="10" fill="#a31a61"/>
<rect x="60" y="204" width="130" height="10" fill="#5d2059"/>
<rect x="190" y="204" width="10" height="10" fill="#5d2059"/>
<rect x="200" y="204" width="10" height="10" fill="#691a61"/>
<rect x="210" y="204" width="10" height="10" fill="#701a61"/>
<rect x="220" y="204" width="10" height="10" fill="#7d1a61"/>
<rect x="230" y="204" width="10" height="10" fill="#712059"/>
<rect x="240" y="204" width="10" height="10" fill="#652d4a"/>
<rect x="250" y="204" width="10" height="10" fill="#5e393c"/>
<rect x="260" y="204" width="10" height="10" fill="#5e4630"/>
<rect x="270" y="204" width="10" height="10" fill="#5d5324"/>
<rect x="280" y="204" width="10" height="10" fill="#43601a"/>
<rect x="290" y="204" width="10" height="10" fill="#2e6c11"/>
<rect x="300" y="204" width="10" height="10" fill="#187909"/>
<rect x="310" y="204" width="10" height="10" fill="#158603"/>
<rect x="320" y="204" width="10" height="10" fill="#268c00"/>
<rect x="330" y="204" width="10" height="10" fill="#398c00"/>
<rect x="340" y="204" width="10" height="10" fill="#068c00"/>
<rect x="350" y="204" width="10" height="10" fill="#008c00"/>
<rect x="360" y="204" width="10" height="10" fill="#008c00"/>
<rect x="370" y="204" width="10" height="10" fill="#2d8c00"/>
<rect x="380" y="204" width="10" height="10" fill="#398c00"/>
<rect x="390" y="204" width="10" height="10" fill="#398c00"/>
<rect x="400" y="204" width="10" height="10" fill="#2d8c00"/>
<rect x="410" y="204" width="10" height="10" fill="#2d8c00"/>
<rect x="420" y="204" width="10" height="10" fill="#2d8c00"/>
<rect x="430" y="204" width="10" height="10" fill="#2a8304"/>
<rect x="440" y="204" width="10" height="10" fill="#2d770b"/>
<rect x="450" y="204" width="10" height="10" fill="#676a13"/>
<rect x="460" y="204" width="10" height="10" fill="#765d1c"/>
<rect x="470" y="204" width="10" height="10" fill="#775027"/>
<rect x="480" y="204" width="10" height="10" fill="#7d4432"/>
<rect x="490" y="204" width="10" height="10" fill="#89373f"/>
<rect x="500" y="204" width="10" height="10" fill="#a52a4d"/>
<rect x="510" y="204" width="10" height="10" fill="#a41d5c"/>
<rect x="520" y="204" width="10" height="10" fill="#a31a61"/>
<rect x="530" y="204" width="10" height="10" fill="#a31a61"/>
<rect x="540" y="204" width="100" height="10" fill="#a31a61"/>
<rect x="60" y="214" width="130" height="10" fill="#502059"/>
<rect x="190" y="214" width="10" height="10" fill="#502059"/>
<rect x="200" y="214" width="10" height="10" fill="#5c1a61"/>
<rect x="210" y="214" width="10" height="10" fill="#631a61"/>
<rect x="220" y="214" width="10" height="10" fill="#631a61"/>
<rect x="230" y="214" width="10" height="10" fill="#572059"/>
<rect x="240" y="214" width="10" height="10" fill="#4c2d4a"/>
<rect x="250" y="214" width="10" height="10" fill="#38393c"/>
<rect x="260" y="214" width="10" height="10" fill="#2b4630"/>
<rect x="270" y="214" width="10" height="10" fill="#175324"/>
<rect x="280" y="214" width="10" height="10" fill="#16601a"/>
<rect x="290" y="214" width="10" height="10" fill="#016c11"/>
<rect x="300" y="214" width="10" height="10" fill="#007909"/>
<rect x="310" y="214" width="10" height="10" fill="#008603"/>
<rect x="320" y="214" width="10" height="10" fill="#068c00"/>
<rect x="330" y="214" width="10" height="10" fill="#068c00"/>
<rect x="340" y="214" width="10" height="10" fill="#008c00"/>
<rect x="350" y="214" width="10" height="10" fill="#008c00"/>
<rect x="360" y="214" width="10" height="10" fill="#008c00"/>
<rect x="370" y="214" width="10" height="10" fill="#228c00"/>
<rect x="380" y="214" width="10" height="10" fill="#2f8c00"/>
<rect x="390" y="214" width="10" height="10" fill="#2f8c00"/>
<rect x="400" y="214" width="10" height="10" fill="#2d8c00"/>
<rect x="410" y="214" width="10" height="10" fill="#2d8c00"/>
<rect x="420" y="214" width="10" height="10" fill="#398c00"/>
<rect x="430" y="214" width="10" height="10" fill="#3c8304"/>
<rect x="440" y="214" width="10" height="10" fill="#58770b"/>
<rect x="450" y="214" width="10" height="10" fill="#746a13"/>
<rect x="460" y="214" width="10" height="10" fill="#695d1c"/>
<rect x="470" y="214" width="10" height="10" fill="#6a5027"/>
<rect x="480" y="214" width="10" height="10" fill="#704432"/>
<rect x="490" y="214" width="10" height="10" fill="#7d373f"/>
<rect x="500" y="214" width="10" height="10" fill="#892a4d"/>
<rect x="510" y="214" width="10" height="10" fill="#881d5c"/>
<rect x="520" y="214" width="10" height="10" fill="#871a61"/>
<rect x="530" y="214" width="10" height="10" fill="#941a61"/>
<rect x="540" y="214" width="100" height="10" fill="#941a61"/>
<rect x="60" y="224" width="130" height="10" fill="#432059"/>
<rect x="190" y="224" width="10" height="10" fill="#432059"/>
<rect x="200" y="224" width="10" height="10" fill="#4f1a61"/>
<rect x="210" y="224" width="10" height="10" fill="#571a61"/>
<rect x="220" y="224" width="10" height="10" fill="#571a61"/>
<rect x="230" y="224" width="10" height="10" fill="#4b2059"/>
<rect x="240" y="224" width="10" height="10" fill="#3f2d4a"/>
<rect x="250" y="224" width="10" height="10" fill="#25393c"/>
<rect x="260" y="224" width="10" height="10" fill="#054630"/>
<rect x="270" y="224" width="10" height="10" fill="#045324"/>
<rect x="280" y="224" width="10" height="10" fill="#03601a"/>
<rect x="290" y="224" width="10" height="10" fill="#016c11"/>
<rect x="300" y="224" width="10" height="10" fill="#007909"/>
<rect x="310" y="224" width="10" height="10" fill="#008603"/>
<rect x="320" y="224" width="10" height="10" fill="#008c00"/>
<rect x="330" y="224" width="10" height="10" fill="#008c00"/>
<rect x="340" y="224" width="10" height="10" fill="#008c00"/>
<rect x="350" y="224" width="10" height="10" fill="#008c00"/>
<rect x="360" y="224" width="10" height="10" fill="#008c00"/>
<rect x="370" y="224" width="10" height="10" fill="#098c00"/>
<rect x="380" y="224" width="10" height="10" fill="#228c00"/>
<rect x="390" y="224" width="10" height="10" fill="#228c00"/>
<rect x="400" y="224" width="10" height="10" fill="#208c00"/>
<rect x="410" y="224" width="10" height="10" fill="#2d8c00"/>
<rect x="420" y="224" width="10" height="10" fill="#2d8c00"/>
<rect x="430" y="224" width="10" height="10" fill="#3c8304"/>
<rect x="440" y="224" width="10" height="10" fill="#3f770b"/>
<rect x="450" y="224" width="10" height="10" fill="#5b6a13"/>
<rect x="460" y="224" width="10" height="10" fill="#695d1c"/>
<rect x="470" y="224" width="10" height="10" fill="#6a5027"/>
<rect x="480" y="224" width="10" height="10" fill="#704432"/>
<rect x="490" y="224" width="10" height="10" fill="#70373f"/>
<rect x="500" y="224" width="10" height="10" fill="#7c2a4d"/>
<rect x="510" y="224" width="10" height="10" fill="#7b1d5c"/>
<rect x="520" y="224" width="10" height="10" fill="#7a1a61"/>
<rect x="530" y="224" width="10" height="10" fill="#871a61"/>
<rect x="540" y="224" width="100" height="10" fill="#871a61"/>
<rect x="60" y="234" width="130" height="10" fill="#432059"/>
<rect x="190" y="234" width="10" height="10" fill="#432059"/>
<rect x="200" y="234" width="10" height="10" fill="#4a1a61"/>
<rect x="210" y="234" width="10" height="10" fill="#521a61"/>
<rect x="220" y="234" width="10" height="10" fill="#521a61"/>
<rect x="230" y="234" width="10" height="10" fill="#522059"/>
<rect x="240" y="234" width="10" height="10" fill="#2c2d4a"/>
<rect x="250" y="234" width="10" height="10" fill="#12393c"/>
<rect x="260" y="234" width="10" height="10" fill="#004630"/>
<rect x="270" y="234" width="10" height="10" fill="#005324"/>
<rect x="280" y="234" width="10" height="10" fill="#00601a"/>
<rect x="290" y="234" width="10" height="10" fill="#006c11"/>
<rect x="300" y="234" width="10" height="10" fill="#007909"/>
<rect x="310" y="234" width="10" height="10" fill="#008603"/>
<rect x="320" y="234" width="10" height="10" fill="#008c00"/>
<rect x="330" y="234" width="10" height="10" fill="#008c00"/>
<rect x="340" y="234" width="10" height="10" fill="#008c00"/>
<rect x="350" y="234" width="10" height="10" fill="#008c00"/>
<rect x="360" y="234" width="10" height="10" fill="#008c00"/>
<rect x="370" y="234" width="10" height="10" fill="#008c00"/>
<rect x="380" y="234" width="10" height="10" fill="#098c00"/>
<rect x="390" y="234" width="10" height="10" fill="#228c00"/>
<rect x="400" y="234" width="10" height="10" fill="#2d8c00"/>
<rect x="410" y="234" width="10" height="10" fill="#2d8c00"/>
<rect x="420" y="234" width="10" height="10" fill="#2d8c00"/>
<rect x="430" y="234" width="10" height="10" fill="#3c8304"/>
<rect x="440" y="234" width="10" height="10" fill="#3f770b"/>
<rect x="450" y="234" width="10" height="10" fill="#4e6a13"/>
<rect x="460" y="234" width="10" height="10" fill="#505d1c"/>
<rect x="470" y="234" width="10" height="10" fill="#515027"/>
<rect x="480" y="234" width="10" height="10" fill="#5e4432"/>
<rect x="490" y="234" width="10" height="10" fill="#5e373f"/>
<rect x="500" y="234" width="10" height="10" fill="#772a4d"/>
<rect x="510" y="234" width="10" height="10" fill="#831d5c"/>
<rect x="520" y="234" width="10" height="10" fill="#821a61"/>
<rect x="530" y="234" width="10" height="10" fill="#8f1a61"/>
<rect x="540" y="234" width="100" height="10" fill="#8f1a61"/>
<rect x="60" y="244" width="130" height="10" fill="#432059"/>
<rect x="190" y="244" width="10" height="10" fill="#432059"/>
<rect x="200" y="244" width="10" height="10" fill="#4a1a61"/>
<rect x="210" y="244" width="10" height="10" fill="#4a1a61"/>
<rect x="220" y="244" width="10" height="10" fill="#4a1a61"/>
<rect x="230" y="244" width="10" height="10" fill="#4b2059"/>
<rect x="240" y="244" width="10" height="10" fill="#242d4a"/>
<rect x="250" y="244" width="10" height="10" fill="#12393c"/>
<rect x="260" y="244" width="10" height="10" fill="#004630"/>
<rect x="270" y="244" width="10" height="10" fill="#005324"/>
<rect x="280" y="244" width="10" height="10" fill="#00601a"/>
<rect x="290" y="244" width="10" height="10" fill="#006c11"/>
<rect x="300" y="244" width="10" height="10" fill="#007909"/>
<rect x="310" y="244" width="10" height="10" fill="#008603"/>
<rect x="320" y="244" width="10" height="10" fill="#008c00"/>
<rect x="330" y="244" width="10" height="10" fill="#008c00"/>
<rect x="340" y="244" width="10" height="10" fill="#008c00"/>
<rect x="350" y="244" width="10" height="10" fill="#008c00"/>
<rect x="360" y="244" width="10" height="10" fill="#008c00"/>
<rect x="370" y="244" width="10" height="10" fill="#008c00"/>
<rect x="380" y="244" width="10" height="10" fill="#098c00"/>
<rect x="390" y="244" width="10" height="10" fill="#2f8c00"/>
<rect x="400" y="244" width="10" height="10" fill="#398c00"/>
<rect x="410" y="244" width="10" height="10" fill="#398c00"/>
<rect x="420" y="244" width="10" height="10" fill="#398c00"/>
<rect x="430" y="244" width="10" height="10" fill="#3c8304"/>
<rect x="440" y="244" width="10" height="10" fill="#3f770b"/>
<rect x="450" y="244" width="10" height="10" fill="#416a13"/>
<rect x="460" y="244" width="10" height="10" fill="#435d1c"/>
<rect x="470" y="244" width="10" height="10" fill="#515027"/>
<rect x="480" y="244" width="10" height="10" fill="#514432"/>
<rect x="490" y="244" width="10" height="10" fill="#51373f"/>
<rect x="500" y="244" width="10" height="10" fill="#6a2a4d"/>
<rect x="510" y="244" width="10" height="10" fill="#691d5c"/>
<rect x="520" y="244" width="10" height="10" fill="#691a61"/>
<rect x="530" y="244" width="10" height="10" fill="#751a61"/>
<rect x="540" y="244" width="100" height="10" fill="#751a61"/>
<rect x="60" y="254" width="130" height="10" fill="#432059"/>
<rect x="190" y="254" width="10" height="10" fill="#432059"/>
<rect x="200" y="254" width="10" height="10" fill="#4a1a61"/>
<rect x="210" y="254" width="10" height="10" fill="#4a1a61"/>
<rect x="220" y="254" width="10" height="10" fill="#4a1a61"/>
<rect x="230" y="254" width="10" height="10" fill="#432059"/>
<rect x="240" y="254" width="10" height="10" fill="#1d2d4a"/>
<rect x="250" y="254" width="10" height="10" fill="#10393c"/>
<rect x="260" y="254" width="10" height="10" fill="#004630"/>
<rect x="270" y="254" width="10" height="10" fill="#005324"/>
<rect x="280" y="254" width="10" height="10" fill="#00601a"/>
<rect x="290" y="254" width="10" height="10" fill="#006c11"/>
<rect x="300" y="254" width="10" height="10" fill="#007909"/>
<rect x="310" y="254" width="10" height="10" fill="#008603"/>
<rect x="320" y="254" width="10" height="10" fill="#008c00"/>
<rect x="330" y="254" width="10" height="10" fill="#008c00"/>
<rect x="340" y="254" width="10" height="10" fill="#008c00"/>
<rect x="350" y="254" width="10" height="10" fill="#008c00"/>
<rect x="360" y="254" width="10" height="10" fill="#008c00"/>
<rect x="370" y="254" width="10" height="10" fill="#008c00"/>
<rect x="380" y="254" width="10" height="10" fill="#068c00"/>
<rect x="390" y="254" width="10" height="10" fill="#198c00"/>
<rect x="400" y="254" width="10" height="10" fill="#398c00"/>
<rect x="410" y="254" width="10" height="10" fill="#398c00"/>
<rect x="420" y="254" width="10" height="10" fill="#398c00"/>
<rect x="430" y="254" width="10" height="10" fill="#298304"/>
<rect x="440" y="254" width="10" height="10" fill="#2c770b"/>
<rect x="450" y="254" width="10" height="10" fill="#416a13"/>
<rect x="460" y="254" width="10" height="10" fill="#435d1c"/>
<rect x="470" y="254" width="10" height="10" fill="#445027"/>
<rect x="480" y="254" width="10" height="10" fill="#514432"/>
<rect x="490" y="254" width="10" height="10" fill="#51373f"/>
<rect x="500" y="254" width="10" height="10" fill="#512a4d"/>
<rect x="510" y="254" width="10" height="10" fill="#5c1d5c"/>
<rect x="520" y="254" width="10" height="10" fill="#5c1a61"/>
<rect x="530" y="254" width="10" height="10" fill="#5c1a61"/>
<rect x="540" y="254" width="100" height="10" fill="#5c1a61"/>
<rect x="60" y="264" width="130" height="10" fill="#431e5a"/>
<rect x="190" y="264" width="10" height="10" fill="#431e5a"/>
<rect x="200" y="264" width="10" height="10" fill="#4a1a61"/>
<rect x="210" y="264" width="10" height="10" fill="#4a1a61"/>
<rect x="220" y="264" width="10" height="10" fill="#4a1a61"/>
<rect x="230" y="264" width="10" height="10" fill="#581e5a"/>
<rect x="240" y="264" width="10" height="10" fill="#51284e"/>
<rect x="250" y="264" width="10" height="10" fill="#533142"/>
<rect x="260" y="264" width="10" height="10" fill="#403b38"/>
<rect x="270" y="264" width="10" height="10" fill="#2d442e"/>
<rect x="280" y="264" width="10" height="10" fill="#2d4e25"/>
<rect x="290" y="264" width="10" height="10" fill="#2c571d"/>
<rect x="300" y="264" width="10" height="10" fill="#2b6116"/>
<rect x="310" y="264" width="10" height="10" fill="#296a0f"/>
<rect x="320" y="264" width="10" height="10" fill="#286f0c"/>
<rect x="330" y="264" width="10" height="10" fill="#286f0c"/>
<rect x="340" y="264" width="10" height="10" fill="#286f0c"/>
<rect x="350" y="264" width="10" height="10" fill="#286f0c"/>
<rect x="360" y="264" width="10" height="10" fill="#286f0c"/>
<rect x="370" y="264" width="10" height="10" fill="#286f0c"/>
<rect x="380" y="264" width="10" height="10" fill="#3c6f0c"/>
<rect x="390" y="264" width="10" height="10" fill="#4f6f0c"/>
<rect x="400" y="264" width="10" height="10" fill="#426f0c"/>
<rect x="410" y="264" width="10" height="10" fill="#426f0c"/>
<rect x="420" y="264" width="10" height="10" fill="#426f0c"/>
<rect x="430" y="264" width="10" height="10" fill="#436810"/>
<rect x="440" y="264" width="10" height="10" fill="#455f17"/>
<rect x="450" y="264" width="10" height="10" fill="#46551e"/>
<rect x="460" y="264" width="10" height="10" fill="#464c26"/>
<rect x="470" y="264" width="10" height="10" fill="#474230"/>
<rect x="480" y="264" width="10" height="10" fill="#53393a"/>
<rect x="490" y="264" width="10" height="10" fill="#522f44"/>
<rect x="500" y="264" width="10" height="10" fill="#512650"/>
<rect x="510" y="264" width="10" height="10" fill="#501c5d"/>
<rect x="520" y="264" width="10" height="10" fill="#5c1a61"/>
<rect x="530" y="264" width="10" height="10" fill="#5c1a61"/>
<rect x="540" y="264" width="100" height="10" fill="#5c1a61"/>
<rect x="60" y="274" width="130" height="10" fill="#501c5c"/>
<rect x="190" y="274" width="10" height="10" fill="#501c5c"/>
<rect x="200" y="274" width="10" height="10" fill="#571a61"/>
<rect x="210" y="274" width="10" height="10" fill="#571a61"/>
<rect x="220" y="274" width="10" height="10" fill="#571a61"/>
<rect x="230" y="274" width="10" height="10" fill="#5f1c5c"/>
<rect x="240" y="274" width="10" height="10" fill="#5a2252"/>
<rect x="250" y="274" width="10" height="10" fill="#4f2849"/>
<rect x="260" y="274" width="10" height="10" fill="#502e40"/>
<rect x="270" y="274" width="10" height="10" fill="#513438"/>
<rect x="280" y="274" width="10" height="10" fill="#523a30"/>
<rect x="290" y="274" width="10" height="10" fill="#403f29"/>
<rect x="300" y="274" width="10" height="10" fill="#404523"/>
<rect x="310" y="274" width="10" height="10" fill="#404b1d"/>
<rect x="320" y="274" width="10" height="10" fill="#404e1a"/>
<rect x="330" y="274" width="10" height="10" fill="#404e1a"/>
<rect x="340" y="274" width="10" height="10" fill="#404e1a"/>
<rect x="350" y="274" width="10" height="10" fill="#404e1a"/>
<rect x="360" y="274" width="10" height="10" fill="#404e1a"/>
<rect x="370" y="274" width="10" height="10" fill="#384e1a"/>
<rect x="380" y="274" width="10" height="10" fill="#4b4e1a"/>
<rect x="390" y="274" width="10" height="10" fill="#4b4e1a"/>
<rect x="400" y="274" width="10" height="10" fill="#584e1a"/>
<rect x="410" y="274" width="10" height="10" fill="#584e1a"/>
<rect x="420" y="274" width="10" height="10" fill="#584e1a"/>
<rect x="430" y="274" width="10" height="10" fill="#584a1e"/>
<rect x="440" y="274" width="10" height="10" fill="#584424"/>
<rect x="450" y="274" width="10" height="10" fill="#583e2b"/>
<rect x="460" y="274" width="10" height="10" fill="#573832"/>
<rect x="470" y="274" width="10" height="10" fill="#56333a"/>
<rect x="480" y="274" width="10" height="10" fill="#552d42"/>
<rect x="490" y="274" width="10" height="10" fill="#53274b"/>
<rect x="500" y="274" width="10" height="10" fill="#5e2154"/>
<rect x="510" y="274" width="10" height="10" fill="#5c1b5e"/>
<rect x="520" y="274" width="10" height="10" fill="#5c1a61"/>
<rect x="530" y="274" width="10" height="10" fill="#5c1a61"/>
<rect x="540" y="274" width="100" height="10" fill="#5c1a61"/>
<rect x="60" y="284" width="130" height="10" fill="#501b5d"/>
<rect x="190" y="284" width="10" height="10" fill="#501b5d"/>
<rect x="200" y="284" width="10" height="10" fill="#571a61"/>
<rect x="210" y="284" width="10" height="10" fill="#571a61"/>
<rect x="220" y="284" width="10" height="10" fill="#571a61"/>
<rect x="230" y="284" width="10" height="10" fill="#601b5d"/>
<rect x="240" y="284" width="10" height="10" fill="#5a1d56"/>
<rect x="250" y="284" width="10" height="10" fill="#5d1f4f"/>
<rect x="260" y="284" width="10" height="10" fill="#5f2149"/>
<rect x="270" y="284" width="10" height="10" fill="#612342"/>
<rect x="280" y="284" width="10" height="10" fill="#56263c"/>
<rect x="290" y="284" width="10" height="10" fill="#582836"/>
<rect x="300" y="284" width="10" height="10" fill="#5a2a30"/>
<rect x="310" y="284" width="10" height="10" fill="#5c2c2b"/>
<rect x="320" y="284" width="10" height="10" fill="#5c2d28"/>
<rect x="330" y="284" width="10" height="10" fill="#5c2d28"/>
<rect x="340" y="284" width="10" height="10" fill="#5c2d28"/>
<rect x="350" y="284" width="10" height="10" fill="#5c2d28"/>
<rect x="360" y="284" width="10" height="10" fill="#5c2d28"/>
<rect x="370" y="284" width="10" height="10" fill="#552d28"/>
<rect x="380" y="284" width="10" height="10" fill="#552d28"/>
<rect x="390" y="284" width="10" height="10" fill="#622d28"/>
<rect x="400" y="284" width="10" height="10" fill="#622d28"/>
<rect x="410" y="284" width="10" height="10" fill="#6e2d28"/>
<rect x="420" y="284" width="10" height="10" fill="#6e2d28"/>
<rect x="430" y="284" width="10" height="10" fill="#6d2c2c"/>
<rect x="440" y="284" width="10" height="10" fill="#6b2932"/>
<rect x="450" y="284" width="10" height="10" fill="#6a2737"/>
<rect x="460" y="284" width="10" height="10" fill="#68253d"/>
<rect x="470" y="284" width="10" height="10" fill="#662344"/>
<rect x="480" y="284" width="10" height="10" fill="#64214a"/>
<rect x="490" y="284" width="10" height="10" fill="#611f51"/>
<rect x="500" y="284" width="10" height="10" fill="#5f1c58"/>
<rect x="510" y="284" width="10" height="10" fill="#5d1a5f"/>
<rect x="520" y="284" width="10" height="10" fill="#5c1a61"/>
<rect x="530" y="284" width="10" height="10" fill="#691a61"/>
<rect x="540" y="284" width="100" height="10" fill="#691a61"/>
<rect x="60" y="294" width="130" height="10" fill="#5d1a5e"/>
<rect x="190" y="294" width="10" height="10" fill="#5d1a5e"/>
<rect x="200" y="294" width="10" height="10" fill="#631a61"/>
<rect x="210" y="294" width="10" height="10" fill="#631a61"/>
<rect x="220" y="294" width="10" height="10" fill="#631a61"/>
<rect x="230" y="294" width="10" height="10" fill="#601a5e"/>
<rect x="240" y="294" width="10" height="10" fill="#5b1a59"/>
<rect x="250" y="294" width="10" height="10" fill="#5d1a53"/>
<rect x="260" y="294" width="10" height="10" fill="#601a4e"/>
<rect x="270" y="294" width="10" height="10" fill="#631a49"/>
<rect x="280" y="294" width="10" height="10" fill="#661a43"/>
<rect x="290" y="294" width="10" height="10" fill="#681a3e"/>
<rect x="300" y="294" width="10" height="10" fill="#6b1a39"/>
<rect x="310" y="294" width="10" height="10" fill="#6e1a33"/>
<rect x="320" y="294" width="10" height="10" fill="#6f1a30"/>
<rect x="330" y="294" width="10" height="10" fill="#6f1a30"/>
<rect x="340" y="294" width="10" height="10" fill="#6f1a30"/>
<rect x="350" y="294" width="10" height="10" fill="#6f1a30"/>
<rect x="360" y="294" width="10" height="10" fill="#6f1a30"/>
<rect x="370" y="294" width="10" height="10" fill="#741a30"/>
<rect x="380" y="294" width="10" height="10" fill="#741a30"/>
<rect x="390" y="294" width="10" height="10" fill="#741a30"/>
<rect x="400" y="294" width="10" height="10" fill="#811a30"/>
<rect x="410" y="294" width="10" height="10" fill="#811a30"/>
<rect x="420" y="294" width="10" height="10" fill="#811a30"/>
<rect x="430" y="294" width="10" height="10" fill="#7f1a34"/>
<rect x="440" y="294" width="10" height="10" fill="#891a3a"/>
<rect x="450" y="294" width="10" height="10" fill="#861a3f"/>
<rect x="460" y="294" width="10" height="10" fill="#841a44"/>
<rect x="470" y="294" width="10" height="10" fill="#811a4a"/>
<rect x="480" y="294" width="10" height="10" fill="#7e1a4f"/>
<rect x="490" y="294" width="10" height="10" fill="#7b1a55"/>
<rect x="500" y="294" width="10" height="10" fill="#791a5a"/>
<rect x="510" y="294" width="10" height="10" fill="#761a5f"/>
<rect x="520" y="294" width="10" height="10" fill="#751a61"/>
<rect x="530" y="294" width="10" height="10" fill="#751a61"/>
<rect x="540" y="294" width="100" height="10" fill="#751a61"/>
<rect x="60" y="304" width="130" height="10" fill="#6a1a5e"/>
<rect x="190" y="304" width="10" height="10" fill="#6a1a5e"/>
<rect x="200" y="304" width="10" height="10" fill="#691a61"/>
<rect x="210" y="304" width="10" height="10" fill="#691a61"/>
<rect x="220" y="304" width="10" height="10" fill="#691a61"/>
<rect x="230" y="304" width="10" height="10" fill="#6a1a5e"/>
<rect x="240" y="304" width="10" height="10" fill="#6d1a59"/>
<rect x="250" y="304" width="10" height="10" fill="#6f1a53"/>
<rect x="260" y="304" width="10" height="10" fill="#721a4e"/>
<rect x="270" y="304" width="10" height="10" fill="#751a49"/>
<rect x="280" y="304" width="10" height="10" fill="#771a43"/>
<rect x="290" y="304" width="10" height="10" fill="#7a1a3e"/>
<rect x="300" y="304" width="10" height="10" fill="#7d1a39"/>
<rect x="310" y="304" width="10" height="10" fill="#731a33"/>
<rect x="320" y="304" width="10" height="10" fill="#741a30"/>
<rect x="330" y="304" width="10" height="10" fill="#741a30"/>
<rect x="340" y="304" width="10" height="10" fill="#741a30"/>
<rect x="350" y="304" width="10" height="10" fill="#741a30"/>
<rect x="360" y="304" width="10" height="10" fill="#741a30"/>
<rect x="370" y="304" width="10" height="10" fill="#741a30"/>
<rect x="380" y="304" width="10" height="10" fill="#741a30"/>
<rect x="390" y="304" width="10" height="10" fill="#741a30"/>
<rect x="400" y="304" width="10" height="10" fill="#741a30"/>
<rect x="410" y="304" width="10" height="10" fill="#741a30"/>
<rect x="420" y="304" width="10" height="10" fill="#741a30"/>
<rect x="430" y="304" width="10" height="10" fill="#721a34"/>
<rect x="440" y="304" width="10" height="10" fill="#6f1a3a"/>
<rect x="450" y="304" width="10" height="10" fill="#6d1a3f"/>
<rect x="460" y="304" width="10" height="10" fill="#771a44"/>
<rect x="470" y="304" width="10" height="10" fill="#741a4a"/>
<rect x="480" y="304" width="10" height="10" fill="#711a4f"/>
<rect x="490" y="304" width="10" height="10" fill="#6f1a55"/>
<rect x="500" y="304" width="10" height="10" fill="#6c1a5a"/>
<rect x="510" y="304" width="10" height="10" fill="#691a5f"/>
<rect x="520" y="304" width="10" height="10" fill="#691a61"/>
<rect x="530" y="304" width="10" height="10" fill="#691a61"/>
<rect x="540" y="304" width="100" height="10" fill="#691a61"/>
<rect x="60" y="314" width="130" height="10" fill="#771a5e"/>
<rect x="190" y="314" width="10" height="10" fill="#771a5e"/>
<rect x="200" y="314" width="10" height="10" fill="#751a61"/>
<rect x="210" y="314" width="10" height="10" fill="#751a61"/>
<rect x="220" y="314" width="10" height="10" fill="#751a61"/>
<rect x="230" y="314" width="10" height="10" fill="#771a5e"/>
<rect x="240" y="314" width="10" height="10" fill="#791a59"/>
<rect x="250" y="314" width="10" height="10" fill="#7c1a53"/>
<rect x="260" y="314" width="10" height="10" fill="#7f1a4e"/>
<rect x="270" y="314" width="10" height="10" fill="#811a49"/>
<rect x="280" y="314" width="10" height="10" fill="#841a43"/>
<rect x="290" y="314" width="10" height="10" fill="#871a3e"/>
<rect x="300" y="314" width="10" height="10" fill="#891a39"/>
<rect x="310" y="314" width="10" height="10" fill="#8c1a33"/>
<rect x="320" y="314" width="10" height="10" fill="#8e1a30"/>
<rect x="330" y="314" width="10" height="10" fill="#8e1a30"/>
<rect x="340" y="314" width="10" height="10" fill="#8e1a30"/>
<rect x="350" y="314" width="10" height="10" fill="#8e1a30"/>
<rect x="360" y="314" width="10" height="10" fill="#8e1a30"/>
<rect x="370" y="314" width="10" height="10" fill="#8e1a30"/>
<rect x="380" y="314" width="10" height="10" fill="#8e1a30"/>
<rect x="390" y="314" width="10" height="10" fill="#8e1a30"/>
<rect x="400" y="314" width="10" height="10" fill="#8e1a30"/>
<rect x="410" y="314" width="10" height="10" fill="#8e1a30"/>
<rect x="420" y="314" width="10" height="10" fill="#8e1a30"/>
<rect x="430" y="314" width="10" height="10" fill="#8c1a34"/>
<rect x="440" y="314" width="10" height="10" fill="#891a3a"/>
<rect x="450" y="314" width="10" height="10" fill="#861a3f"/>
<rect x="460" y="314" width="10" height="10" fill="#841a44"/>
<rect x="470" y="314" width="10" height="10" fill="#811a4a"/>
<rect x="480" y="314" width="10" height="10" fill="#7e1a4f"/>
<rect x="490" y="314" width="10" height="10" fill="#7b1a55"/>
<rect x="500" y="314" width="10" height="10" fill="#791a5a"/>
<rect x="510" y="314" width="10" height="10" fill="#761a5f"/>
<rect x="520" y="314" width="10" height="10" fill="#751a61"/>
<rect x="530" y="314" width="10" height="10" fill="#751a61"/>
<rect x="540" y="314" width="100" height="10" fill="#751a61"/>
<rect x="60" y="30" width="600" height="24" fill="#a61a00"/>
<rect x="60" y="324" width="600" height="20" fill="#a61a00"/>
</g>
</g>
<g clip-path="url(#plotclip)"><g filter="url(#spb)">
<rect x="190" y="54" width="350" height="9" fill="#088bf9" opacity="0.55"/>
<ellipse cx="354" cy="201.5" rx="1.5" ry="1.5" fill="#5ab9ff" opacity="0.8"/>
<ellipse cx="453" cy="221" rx="3.5" ry="2.5" fill="#bee2ff" opacity="0.9"/>
<ellipse cx="456" cy="206" rx="5" ry="3" fill="#1494fc" opacity="0.6"/>
<ellipse cx="468" cy="214.5" rx="2.5" ry="2" fill="#5ab9ff" opacity="0.8"/>
<ellipse cx="499" cy="210.5" rx="3" ry="2" fill="#bee2ff" opacity="0.85"/>
<rect x="216" y="154" width="34" height="5" fill="#0078f2" opacity="0.5"/>
<rect x="246" y="166" width="16" height="4" fill="#0084f8" opacity="0.6"/>
<ellipse cx="256" cy="214" rx="4" ry="2" fill="#28a5ff" opacity="0.7"/>
<ellipse cx="230" cy="213" rx="5" ry="2" fill="#1494fc" opacity="0.6"/>
<rect x="214" y="206" width="50" height="11" fill="#1494fc" opacity="0.6"/>
<rect x="214" y="175" width="25" height="10" fill="#0078f2" opacity="0.5"/>
<rect x="462" y="206" width="71" height="10" fill="#28a5ff" opacity="0.55"/>
<rect x="480" y="210" width="53" height="4" fill="#5ab9ff" opacity="0.5"/>
<polygon points="395,276 440,270 533,262 533,302 505,305 470,306 440,298 410,288" fill="#1898fc" opacity="0.6"/>
<rect x="515" y="151" width="18" height="3" fill="#aadaff" opacity="0.85"/>
<rect x="514" y="154" width="19" height="6" fill="#3cadff" opacity="0.7"/>
<rect x="505" y="170" width="28" height="5" fill="#28a5ff" opacity="0.7"/>
<rect x="505" y="170" width="5" height="4" fill="#8ccdff" opacity="0.7"/>
<rect x="516" y="180" width="17" height="4" fill="#209efe" opacity="0.6"/>
<rect x="509" y="189" width="24" height="7" fill="#1c9bfd" opacity="0.6"/>
<rect x="368" y="156" width="16" height="12" fill="#0073f0" opacity="0.5"/>
<rect x="369" y="168" width="17" height="15" fill="#0084f8" opacity="0.55"/>
<rect x="372" y="172" width="6" height="6" fill="#bee2ff" opacity="0.85"/>
<rect x="379" y="176" width="5" height="4" fill="#aadaff" opacity="0.85"/>
<rect x="370" y="168" width="3" height="3" fill="#5ab9ff" opacity="0.7"/>
<rect x="383" y="171" width="3" height="3" fill="#5ab9ff" opacity="0.6"/>
<rect x="376" y="181" width="4" height="3" fill="#28a5ff" opacity="0.6"/>
<rect x="406" y="160" width="30" height="32" fill="#007ff6" opacity="0.45"/>
<rect x="422" y="163" width="5" height="7" fill="#c8e7ff" opacity="0.9"/>
<rect x="417" y="167" width="5" height="7" fill="#bee2ff" opacity="0.9"/>
<rect x="412" y="172" width="7" height="7" fill="#a0d6ff" opacity="0.85"/>
<rect x="422" y="180" width="8" height="11" fill="#c8e7ff" opacity="0.9"/>
<rect x="426" y="174" width="4" height="5" fill="#5ab9ff" opacity="0.7"/>
<rect x="407" y="163" width="4" height="16" fill="#0084f8" opacity="0.5"/>
<rect x="323" y="194" width="20" height="12" fill="#0084f8" opacity="0.55"/>
<rect x="328" y="196" width="10" height="8" fill="#209efe" opacity="0.6"/>
<rect x="371" y="119" width="6" height="5" fill="#209efe" opacity="0.6"/>
<rect x="367" y="142" width="10" height="8" fill="#0c8efa" opacity="0.5"/>
<rect x="374" y="147" width="4" height="3" fill="#5ab9ff" opacity="0.6"/>
<rect x="373" y="172" width="10" height="8" fill="#5ab9ff" opacity="0.5"/>
<rect x="216" y="147" width="40" height="4" fill="#0084f8" opacity="0.45"/>
<rect x="216" y="165" width="55" height="5" fill="#007ff6" opacity="0.45"/>
<rect x="250" y="207" width="40" height="7" fill="#088bf9" opacity="0.45"/>
<rect x="282" y="155" width="25" height="17" fill="#0061e5" opacity="0.35"/>
</g></g>
<polygon points="81,55 235,55 235,57 245,57 245,58 251,58 251,60 254.5,60 254.5,61.5 255,61.5 255,63 257,63 257,64 254,64 254,66 249,66 249,67 246,67 246,69 244,69 244,70.5 241,70.5 241,72 239,72 239,73 236.5,73 236.5,74.5 235,74.5 235,75.5 233,75.5 233,78 231.5,78 231.5,81 230,81 230,84 229,84 229,87 227.5,87 227.5,90 226.5,90 226.5,94 224.5,94 224.5,98 223.7,98 223.7,100 223,100 223,106 221.2,106 221.2,116 220,116 220,129.5 218.2,129.5 218.2,147.5 217,147.5 217,168 215,168 215,194 214,194 214,217 212.4,217 212.4,230 212,230 212,238 210.6,238 210.6,254 209,254 209,265 208,265 208,274 206.4,274 206.4,280 205.4,280 205.4,284 204,284 204,288 203,288 203,289 202,289 202,292 200.5,292 200.5,295 199,295 199,298 197,298 197,300 195,300 195,302 193,302 193,304 189.5,304 189.5,306 187,306 187,308 181,308 181,310 175,310 175,311 169,311 169,313 158,313 158,314 140,314 140,316 81,316" fill="#000"/>
<polygon points="616,55 565,55 565,57 552.8,57 552.8,58 549,58 549,60 546,60 546,61 543,61 543,63 541,63 541,64 540,64 540,67 538,67 538,72 536.4,72 536.4,79 535,79 535,94 534,94 534,136 533,136 533,214 531,214 531,260 530,260 530,281 528.4,281 528.4,292 527,292 527,297 525,297 525,299 524,299 524,302 522,302 522,305 520.8,305 520.8,307 519,307 519,310 527,310 527,313 538,313 538,314 556,314 556,316 616,316" fill="#000"/>
<rect x="81" y="54" width="115" height="1" fill="#000"/>
<rect x="604" y="54" width="12" height="1" fill="#000"/>
</g>
<g id="axes" fill="#fff" shape-rendering="crispEdges">
<rect x="80" y="53" width="537" height="1"/>
<rect x="80" y="321" width="537" height="1"/>
<rect x="80" y="53" width="1" height="269"/>
<rect x="616" y="53" width="1" height="269"/>
<rect x="81" y="50" width="1" height="3"/>
<rect x="81" y="322" width="1" height="3"/>
<rect x="125" y="50" width="1" height="3"/>
<rect x="125" y="322" width="1" height="3"/>
<rect x="170" y="50" width="1" height="3"/>
<rect x="170" y="322" width="1" height="3"/>
<rect x="214" y="50" width="1" height="3"/>
<rect x="214" y="322" width="1" height="3"/>
<rect x="259" y="50" width="1" height="3"/>
<rect x="259" y="322" width="1" height="3"/>
<rect x="303" y="50" width="1" height="3"/>
<rect x="303" y="322" width="1" height="3"/>
<rect x="348" y="50" width="1" height="3"/>
<rect x="348" y="322" width="1" height="3"/>
<rect x="393" y="50" width="1" height="3"/>
<rect x="393" y="322" width="1" height="3"/>
<rect x="437" y="50" width="1" height="3"/>
<rect x="437" y="322" width="1" height="3"/>
<rect x="482" y="50" width="1" height="3"/>
<rect x="482" y="322" width="1" height="3"/>
<rect x="526" y="50" width="1" height="3"/>
<rect x="526" y="322" width="1" height="3"/>
<rect x="571" y="50" width="1" height="3"/>
<rect x="571" y="322" width="1" height="3"/>
<rect x="615" y="50" width="1" height="3"/>
<rect x="615" y="322" width="1" height="3"/>
<rect x="75" y="53" width="5" height="1"/>
<rect x="617" y="53" width="5" height="1"/>
<rect x="75" y="98" width="5" height="1"/>
<rect x="617" y="98" width="5" height="1"/>
<rect x="75" y="142" width="5" height="1"/>
<rect x="617" y="142" width="5" height="1"/>
<rect x="75" y="187" width="5" height="1"/>
<rect x="617" y="187" width="5" height="1"/>
<rect x="75" y="232" width="5" height="1"/>
<rect x="617" y="232" width="5" height="1"/>
<rect x="75" y="276" width="5" height="1"/>
<rect x="617" y="276" width="5" height="1"/>
<rect x="75" y="321" width="5" height="1"/>
<rect x="617" y="321" width="5" height="1"/>
</g>
<defs><filter id="tc" x="0" y="0" width="640" height="400" filterUnits="userSpaceOnUse" color-interpolation-filters="sRGB"><feComponentTransfer><feFuncR type="linear" slope="2" intercept="-0.12"/><feFuncG type="linear" slope="2" intercept="-0.12"/><feFuncB type="linear" slope="2" intercept="-0.12"/><feFuncA type="linear" slope="1.4" intercept="0"/></feComponentTransfer></filter></defs>
<g id="labels" filter="url(#tc)">
<text x="81.5" y="342.8" text-anchor="middle" font-size="14.2" textLength="35.6" lengthAdjust="spacingAndGlyphs">−180</text>
<text x="125.5" y="342.8" text-anchor="middle" font-size="14.2" textLength="35.6" lengthAdjust="spacingAndGlyphs">−150</text>
<text x="170.5" y="342.8" text-anchor="middle" font-size="14.2" textLength="35.6" lengthAdjust="spacingAndGlyphs">−120</text>
<text x="214.5" y="342.8" text-anchor="middle" font-size="14.2" textLength="27.4" lengthAdjust="spacingAndGlyphs">−90</text>
<text x="259.5" y="342.8" text-anchor="middle" font-size="14.2" textLength="27.4" lengthAdjust="spacingAndGlyphs">−60</text>
<text x="303.5" y="342.8" text-anchor="middle" font-size="14.2" textLength="27.4" lengthAdjust="spacingAndGlyphs">−30</text>
<text x="348.5" y="342.8" text-anchor="middle" font-size="14.2" textLength="8.2" lengthAdjust="spacingAndGlyphs">0</text>
<text x="393.5" y="342.8" text-anchor="middle" font-size="14.2" textLength="16.2" lengthAdjust="spacingAndGlyphs">30</text>
<text x="437.5" y="342.8" text-anchor="middle" font-size="14.2" textLength="16.2" lengthAdjust="spacingAndGlyphs">60</text>
<text x="482.5" y="342.8" text-anchor="middle" font-size="14.2" textLength="16.2" lengthAdjust="spacingAndGlyphs">90</text>
<text x="526.5" y="342.8" text-anchor="middle" font-size="14.2" textLength="24.4" lengthAdjust="spacingAndGlyphs">120</text>
<text x="571.5" y="342.8" text-anchor="middle" font-size="14.2" textLength="24.4" lengthAdjust="spacingAndGlyphs">150</text>
<text x="615.5" y="342.8" text-anchor="middle" font-size="14.2" textLength="24.4" lengthAdjust="spacingAndGlyphs">180</text>
<text x="71" y="61.8" text-anchor="end" font-size="14.2" textLength="16.2" lengthAdjust="spacingAndGlyphs">90</text>
<text x="71" y="104" text-anchor="end" font-size="14.2" textLength="16.2" lengthAdjust="spacingAndGlyphs">60</text>
<text x="71" y="147.9" text-anchor="end" font-size="14.2" textLength="16.2" lengthAdjust="spacingAndGlyphs">30</text>
<text x="71" y="192.5" text-anchor="end" font-size="14.2" textLength="8.2" lengthAdjust="spacingAndGlyphs">0</text>
<text x="71" y="237.5" text-anchor="end" font-size="14.2" textLength="27.4" lengthAdjust="spacingAndGlyphs">−30</text>
<text x="71" y="281.8" text-anchor="end" font-size="14.2" textLength="27.4" lengthAdjust="spacingAndGlyphs">−60</text>
<text x="71" y="323" text-anchor="end" font-size="14.2" textLength="27.4" lengthAdjust="spacingAndGlyphs">−90</text>
<text x="134.50" y="46.3" font-size="16" textLength="71.00" lengthAdjust="spacingAndGlyphs">EUVI/AIA</text>
<text x="212.50" y="46.3" font-size="16" textLength="31.00" lengthAdjust="spacingAndGlyphs">171</text>
<text x="251.50" y="46.3" font-size="16" textLength="89.00" lengthAdjust="spacingAndGlyphs">Stonyhurst</text>
<text x="347.00" y="46.3" font-size="16" textLength="103.50" lengthAdjust="spacingAndGlyphs">Heliographic</text>
<text x="456.00" y="46.3" font-size="16" textLength="106.00" lengthAdjust="spacingAndGlyphs">(Earth−view)</text>
<text x="183.00" y="393.5" font-size="14.2" textLength="77.00" lengthAdjust="spacingAndGlyphs">Observation</text>
<text x="266.00" y="393.5" font-size="14.2" textLength="28.00" lengthAdjust="spacingAndGlyphs">date:</text>
<text x="305.50" y="393.5" font-size="14.2" textLength="87.00" lengthAdjust="spacingAndGlyphs">2025/05/08</text>
<text x="398.50" y="393.5" font-size="14.2" textLength="59.50" lengthAdjust="spacingAndGlyphs">21:05:30</text>
<text x="348.2" y="358.75" font-size="14.2" text-anchor="middle" textLength="61.4" lengthAdjust="spacingAndGlyphs">Longitude</text>
<text transform="translate(32,188) rotate(-90)" x="0" y="0" font-size="14.2" text-anchor="middle" textLength="53.5" lengthAdjust="spacingAndGlyphs">Latitude</text>
</g>
</svg>
</body></html>
